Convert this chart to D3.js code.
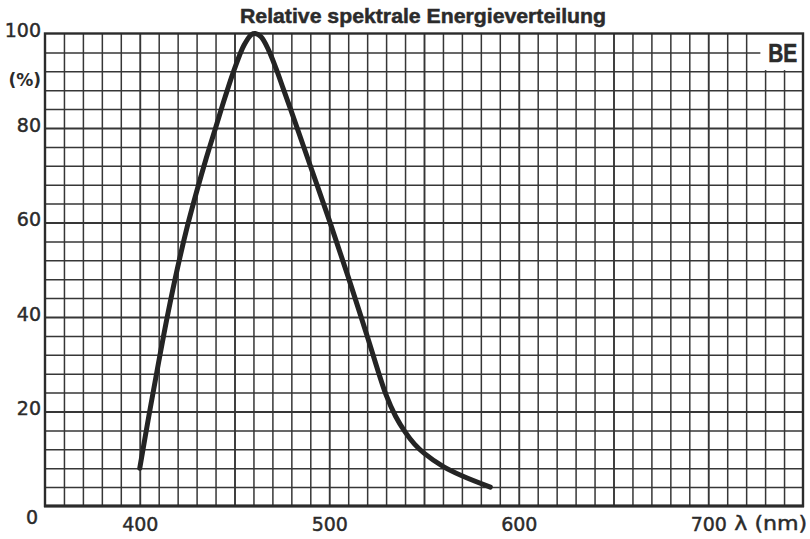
<!DOCTYPE html>
<html>
<head>
<meta charset="utf-8">
<script src="https://cdn.jsdelivr.net/npm/d3@7"></script>
<style>
  html, body { margin: 0; padding: 0; background: #fff; }
  svg { display: block; }
</style>
</head>
<body>
<svg id="chart" width="810" height="539"></svg>
<script>
// Relative spectral energy distribution of phosphor "BE"
const wavelengths = [400, 405, 410, 415, 420, 425, 430, 435, 440, 445, 450, 455, 459, 461, 464, 468, 472, 476, 480, 490, 500, 510, 520, 530, 535, 540, 545, 550, 560, 570, 585];
const energy      = [8, 19.5, 30.5, 41, 50.5, 59, 66.5, 73.5, 80, 86.5, 92.5, 97.5, 99.8, 100, 99.3, 96.5, 92.5, 88, 83.5, 72, 60.5, 48.5, 36, 23.5, 19, 15.7, 13.1, 11.2, 8.4, 6.4, 4];

const xTickValues = [400, 500, 600, 700];
const yTickValues = [0, 20, 40, 60, 80, 100];
const titleText = "Relative spektrale Energieverteilung";
const yUnitText = "(%)";
const xUnitText = "λ (nm)";
const curveTag = "BE";

const W = 810, H = 539;
const plot = { left: 45, right: 803, top: 33.5, bottom: 506 };
const ink = "#2b2b2b";
const labelFont = "'DejaVu Sans', sans-serif";
const boldFont = "'Liberation Sans', Arial, sans-serif";

const x = d3.scaleLinear().domain([350, 750]).range([plot.left, plot.right]);
const y = d3.scaleLinear().domain([0, 100]).range([plot.bottom, plot.top]);

const svg = d3.select("#chart");
svg.append("rect").attr("width", W).attr("height", H).attr("fill", "#fff");

// Millimetre-style grid: every 10 nm and every 4 %
const gridV = svg.append("g")
  .attr("transform", `translate(0,${plot.bottom})`)
  .call(d3.axisBottom(x)
    .tickValues(d3.range(360, 750, 10))
    .tickSize(-(plot.bottom - plot.top))
    .tickFormat(""));
gridV.select(".domain").remove();
gridV.selectAll(".tick line")
  .attr("stroke", "#363636")
  .attr("stroke-width", d => d % 50 === 0 ? 1.9 : 1.5);

const gridH = svg.append("g")
  .attr("transform", `translate(${plot.left},0)`)
  .call(d3.axisLeft(y)
    .tickValues(d3.range(4, 100, 4))
    .tickSize(-(plot.right - plot.left))
    .tickFormat(""));
gridH.select(".domain").remove();
gridH.selectAll(".tick line")
  .attr("stroke", "#363636")
  .attr("stroke-width", d => d % 20 === 0 ? 1.9 : 1.5);

// Blank field for the curve tag in the upper right corner
svg.append("rect")
  .attr("x", x(727.5))
  .attr("y", plot.top)
  .attr("width", plot.right - x(727.5))
  .attr("height", y(92) - plot.top - 1.2)
  .attr("fill", "#fff");

svg.append("text")
  .attr("x", x(739.3))
  .attr("y", y(92) - 9.5)
  .attr("text-anchor", "middle")
  .attr("font-family", boldFont)
  .attr("font-weight", "bold")
  .attr("font-size", 25)
  .attr("textLength", 29)
  .attr("lengthAdjust", "spacingAndGlyphs")
  .attr("fill", ink)
  .attr("stroke", ink)
  .attr("stroke-width", 0.6)
  .text(curveTag);

// Frame
svg.append("rect")
  .attr("x", plot.left).attr("y", plot.top)
  .attr("width", plot.right - plot.left)
  .attr("height", plot.bottom - plot.top)
  .attr("fill", "none")
  .attr("stroke", ink)
  .attr("stroke-width", 2.4);
svg.append("line")
  .attr("x1", plot.left - 1).attr("x2", plot.right + 1)
  .attr("y1", plot.bottom).attr("y2", plot.bottom)
  .attr("stroke", ink).attr("stroke-width", 3);

// Spectral curve
const line = d3.line()
  .x((d, i) => x(wavelengths[i]))
  .y(d => y(d))
  .curve(d3.curveCatmullRom.alpha(0.5));
svg.append("path")
  .datum(energy)
  .attr("d", line)
  .attr("fill", "none")
  .attr("stroke", "#242424")
  .attr("stroke-width", 5)
  .attr("stroke-linecap", "round")
  .attr("stroke-linejoin", "round");

// Y axis labels
const yAxis = svg.append("g")
  .attr("transform", `translate(${plot.left},0)`)
  .call(d3.axisLeft(y).tickValues(yTickValues).tickSize(0).tickPadding(4).tickFormat(d3.format("d")));
yAxis.select(".domain").remove();
yAxis.selectAll(".tick text")
  .attr("font-family", labelFont)
  .attr("font-size", 19)
  .attr("fill", ink)
  .attr("stroke", ink)
  .attr("stroke-width", 0.45)
  .attr("dy", "0.16em");
yAxis.selectAll(".tick text").filter(d => d === 0)
  .attr("x", -7)
  .attr("dy", "0.9em");

svg.append("text")
  .attr("x", plot.left - 4)
  .attr("y", y(90) + 5)
  .attr("text-anchor", "end")
  .attr("font-family", labelFont)
  .attr("font-size", 17)
  .attr("font-weight", "bold")
  .attr("fill", ink)
  .text(yUnitText);

// X axis labels
const xAxis = svg.append("g")
  .attr("transform", `translate(0,${plot.bottom})`)
  .call(d3.axisBottom(x).tickValues(xTickValues).tickSize(0).tickFormat(d3.format("d")));
xAxis.select(".domain").remove();
xAxis.selectAll(".tick text")
  .attr("font-family", labelFont)
  .attr("font-size", 19)
  .attr("fill", ink)
  .attr("stroke", ink)
  .attr("stroke-width", 0.45)
  .attr("y", 25)
  .attr("dy", 0);

svg.append("text")
  .attr("x", x(700) + 26)
  .attr("y", plot.bottom + 24)
  .attr("font-family", labelFont)
  .attr("font-size", 19)
  .attr("textLength", 73)
  .attr("lengthAdjust", "spacingAndGlyphs")
  .attr("fill", ink)
  .attr("stroke", ink)
  .attr("stroke-width", 0.45)
  .text(xUnitText);

// Title
svg.append("text")
  .attr("x", 423)
  .attr("y", 23)
  .attr("text-anchor", "middle")
  .attr("font-family", boldFont)
  .attr("font-weight", "bold")
  .attr("font-size", 21)
  .attr("textLength", 366)
  .attr("lengthAdjust", "spacingAndGlyphs")
  .attr("fill", ink)
  .attr("stroke", ink)
  .attr("stroke-width", 0.5)
  .text(titleText);
</script>
</body>
</html>
